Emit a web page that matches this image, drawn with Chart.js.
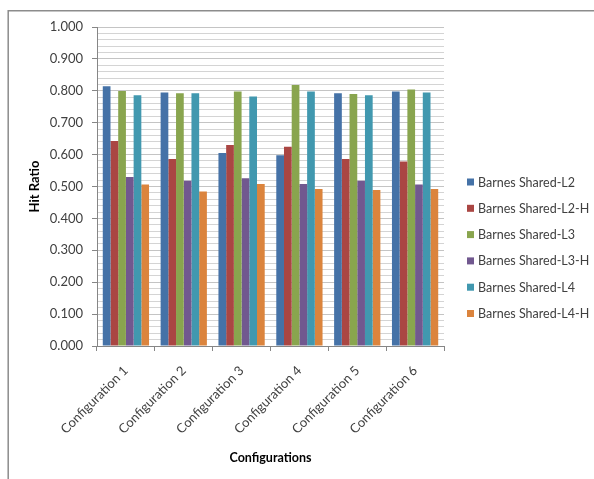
<!DOCTYPE html>
<html>
<head>
<meta charset="utf-8">
<script src="https://cdn.jsdelivr.net/npm/chart.js@4/dist/chart.umd.min.js"></script>
<style>
  html, body { margin: 0; padding: 0; background: #fff; }
  #wrap { width: 594px; height: 479px; position: relative; }
</style>
</head>
<body>
<div id="wrap"><canvas id="c" width="594" height="479"></canvas></div>
<script>
// Hit ratio per configuration for each Barnes cache setup
const configurations = ['Configuration 1', 'Configuration 2', 'Configuration 3',
                        'Configuration 4', 'Configuration 5', 'Configuration 6'];
const seriesNames = ['Barnes Shared-L2', 'Barnes Shared-L2-H', 'Barnes Shared-L3',
                     'Barnes Shared-L3-H', 'Barnes Shared-L4', 'Barnes Shared-L4-H'];
const sharedL2  = [0.814, 0.795, 0.605, 0.598, 0.792, 0.798];
const sharedL2H = [0.643, 0.586, 0.630, 0.625, 0.586, 0.578];
const sharedL3  = [0.799, 0.792, 0.798, 0.818, 0.790, 0.804];
const sharedL3H = [0.530, 0.518, 0.526, 0.508, 0.518, 0.506];
const sharedL4  = [0.786, 0.792, 0.782, 0.798, 0.786, 0.795];
const sharedL4H = [0.506, 0.484, 0.508, 0.492, 0.489, 0.492];
const seriesColors = ['#4572A7', '#AA4643', '#89A54E', '#71588F', '#4198AF', '#DB843D'];

const FONT = 'Lato, "Open Sans", sans-serif';
const TEXT = '#404040';

const seriesValues = [sharedL2, sharedL2H, sharedL3, sharedL3H, sharedL4, sharedL4H];
const datasets = seriesValues.map((vals, i) => ({
  label: seriesNames[i],
  data: vals,
  backgroundColor: seriesColors[i],
  borderWidth: 0,
  categoryPercentage: 0.8,
  barPercentage: 1.0
}));

const isMajor = v => Math.abs(v * 10 - Math.round(v * 10)) < 1e-6;

// White page with an outer frame line along top and left
const framePlugin = {
  id: 'frame',
  beforeDraw(chart) {
    const ctx = chart.ctx;
    ctx.save();
    ctx.fillStyle = '#fff';
    ctx.fillRect(0, 0, chart.width, chart.height);
    ctx.strokeStyle = '#8c8c8c';
    ctx.lineWidth = 1.5;
    ctx.beginPath();
    ctx.moveTo(8.2, chart.height + 2);
    ctx.lineTo(8.2, 10.8);
    ctx.lineTo(chart.width + 2, 10.8);
    ctx.stroke();
    ctx.restore();
  }
};

// Legend column to the right of the plot
const sideLegend = {
  id: 'sideLegend',
  afterDraw(chart) {
    const ctx = chart.ctx;
    const items = chart.data.datasets;
    const x0 = 467, y0 = 182, step = 26.3;
    ctx.save();
    ctx.font = '12.5px ' + FONT;
    ctx.textBaseline = 'middle';
    ctx.textAlign = 'left';
    items.forEach((ds, i) => {
      const y = y0 + i * step;
      ctx.fillStyle = ds.backgroundColor;
      ctx.fillRect(x0, y - 3.5, 7, 7);
      ctx.fillStyle = TEXT;
      ctx.fillText(ds.label, x0 + 11, y + 0.5);
    });
    ctx.restore();
  }
};

new Chart(document.getElementById('c'), {
  type: 'bar',
  data: { labels: configurations, datasets },
  plugins: [framePlugin, sideLegend],
  options: {
    responsive: false,
    animation: false,
    devicePixelRatio: 1,
    layout: { padding: { left: 0, right: 150, top: 27, bottom: 0 } },
    plugins: { legend: { display: false }, tooltip: { enabled: false } },
    scales: {
      x: {
        afterFit(scale) { scale.height = 133; },
        grid: {
          display: true, drawOnChartArea: false, offset: true,
          tickLength: 5, color: '#868686'
        },
        border: { color: '#868686', width: 1 },
        ticks: {
          minRotation: 45, maxRotation: 45, padding: 12,
          color: TEXT, font: { family: FONT, size: 13 }
        },
        title: {
          display: true, text: 'Configurations', color: '#000',
          font: { family: FONT, size: 12.5, weight: 'bold' },
          padding: { top: 4, bottom: 14 }
        }
      },
      y: {
        min: 0, max: 1,
        afterFit(scale) { scale.width = 97; },
        border: { color: '#868686', width: 1 },
        grid: {
          color: c => isMajor(c.tick.value) ? '#c4c4c4' : '#d4d4d4',
          tickColor: c => isMajor(c.tick.value) ? '#868686' : 'rgba(0,0,0,0)',
          tickLength: 5
        },
        ticks: {
          stepSize: 0.02, autoSkip: false, padding: 9,
          color: TEXT, font: { family: FONT, size: 13 },
          callback: v => isMajor(v) ? v.toFixed(3) : ''
        },
        title: {
          display: true, text: 'Hit Ratio', color: '#000',
          font: { family: FONT, size: 13, weight: 'bold' },
          padding: { top: 27, bottom: 4 }
        }
      }
    }
  }
});
</script>
</body>
</html>
